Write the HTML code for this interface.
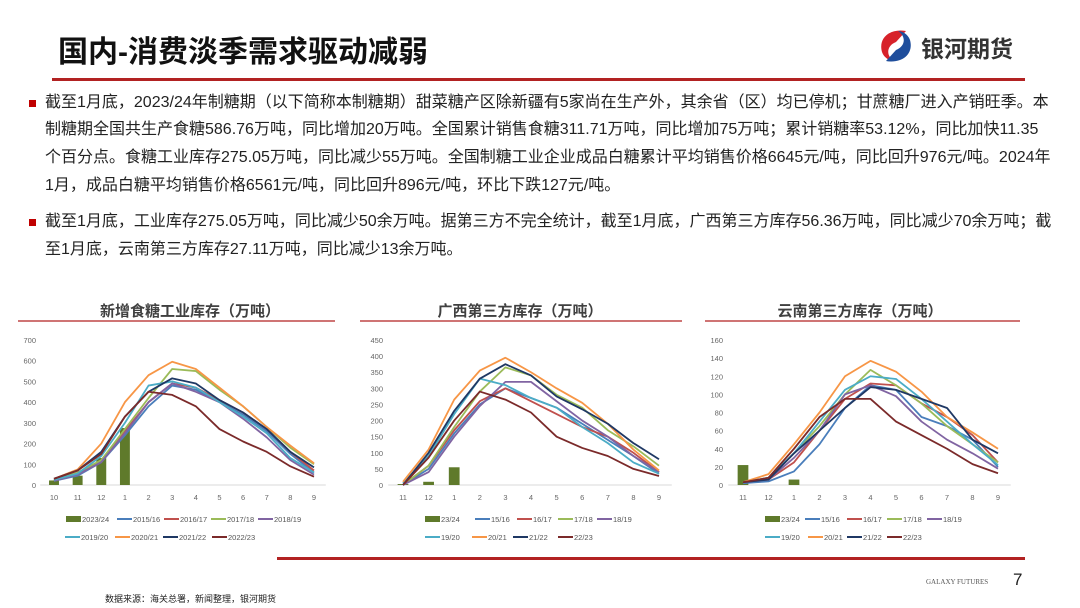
<!DOCTYPE html>
<html><head><meta charset="utf-8">
<style>
body{margin:0;width:1080px;height:608px;background:#fff;overflow:hidden;position:relative;font-family:"Liberation Sans","Noto Sans CJK SC",sans-serif;}
.t{position:absolute;white-space:nowrap;}
.line{position:absolute;left:45px;font-size:16px;color:#222;white-space:nowrap;line-height:20px;}
.bul{position:absolute;left:29px;width:7px;height:7px;background:#c00000;}
</style></head><body>
<div class="t" style="left:58px;top:27px;font-size:30px;font-weight:bold;color:#111;font-family:'Liberation Sans','Noto Sans CJK SC',sans-serif;">国内-消费淡季需求驱动减弱</div>
<div style="position:absolute;left:52px;top:78px;width:973px;height:3px;background:#b22222;"></div>
<svg style="position:absolute;left:876px;top:28px" width="40" height="36" viewBox="0 0 40 36"><path d="M30 3 C14 0 2 10 6 24 C8 30 14 33 18 33 C10 28 10 18 20 14 Z" fill="#d7222a"/><path d="M10 33 C26 36 38 26 34 12 C32 6 26 3 22 3 C30 8 30 18 20 22 Z" fill="#1f4e9c"/></svg>
<div class="t" style="left:921px;top:30px;font-size:23px;font-weight:bold;color:#333;">银河期货</div>

<div class="bul" style="top:100px"></div>
<div class="line" style="top:93px">截至1月底，2023/24年制糖期（以下简称本制糖期）甜菜糖产区除新疆有5家尚在生产外，其余省（区）均已停机；甘蔗糖厂进入产销旺季。本</div>
<div class="line" style="top:120px">制糖期全国共生产食糖586.76万吨，同比增加20万吨。全国累计销售食糖311.71万吨，同比增加75万吨；累计销糖率53.12%，同比加快11.35</div>
<div class="line" style="top:148px">个百分点。食糖工业库存275.05万吨，同比减少55万吨。全国制糖工业企业成品白糖累计平均销售价格6645元/吨，同比回升976元/吨。2024年</div>
<div class="line" style="top:176px">1月，成品白糖平均销售价格6561元/吨，同比回升896元/吨，环比下跌127元/吨。</div>
<div class="bul" style="top:219px"></div>
<div class="line" style="top:212px">截至1月底，工业库存275.05万吨，同比减少50余万吨。据第三方不完全统计，截至1月底，广西第三方库存56.36万吨，同比减少70余万吨；截</div>
<div class="line" style="top:240px">至1月底，云南第三方库存27.11万吨，同比减少13余万吨。</div>

<svg id="charts" style="position:absolute;left:0;top:0" width="1080" height="608"></svg>

<div style="position:absolute;left:277px;top:557px;width:748px;height:3px;background:#b22222;"></div>
<div class="t" style="left:926px;top:578px;font-size:7px;color:#555;font-family:'Liberation Serif',serif;">GALAXY FUTURES</div>
<div class="t" style="left:1013px;top:570px;font-size:17px;color:#222;">7</div>
<div class="t" style="left:105px;top:592px;font-size:9px;color:#222;">数据来源：海关总署，新闻整理，银河期货</div>

<script>
const colors=["#4a7ebb","#c0504d","#9bbb59","#8064a2","#4bacc6","#f79646","#1f3864","#7b2a2a"];
const barColor="#5f7a2b";
// chart 1
const c1Cats=["10","11","12","1","2","3","4","5","6","7","8","9"];
const c1Ticks=[0,100,200,300,400,500,600,700];
const c1Bar=[22,45,130,275];
const c1Names=["2023/24","2015/16","2016/17","2017/18","2018/19","2019/20","2020/21","2021/22","2022/23"];
const c1S1=[20,45,110,240,380,480,460,400,340,260,150,60];
const c1S2=[25,55,120,260,400,490,470,410,350,270,160,70];
const c1S3=[25,60,120,270,420,560,550,460,380,280,180,100];
const c1S4=[20,50,110,250,400,490,450,400,320,230,120,50];
const c1S5=[25,55,140,300,480,500,470,400,330,250,130,60];
const c1S6=[30,75,200,400,530,595,560,470,380,280,190,105];
const c1S7=[30,70,160,330,450,515,490,410,350,270,160,85];
const c1S8=[30,70,150,330,450,435,380,270,210,160,90,40];
// chart 2
const c2Cats=["11","12","1","2","3","4","5","6","7","8","9"];
const c2Ticks=[0,50,100,150,200,250,300,350,400,450];
const c2Bar=[3,10,55];
const c2Names=["23/24","15/16","16/17","17/18","18/19","19/20","20/21","21/22","22/23"];
const c2S1=[0,50,160,250,300,270,240,190,140,90,35];
const c2S2=[0,60,170,260,300,260,220,180,150,100,40];
const c2S3=[0,60,180,290,365,340,280,240,170,120,60];
const c2S4=[0,40,150,245,320,320,260,200,150,90,40];
const c2S5=[5,90,220,330,310,270,240,180,130,70,35];
const c2S6=[10,110,265,355,395,350,300,255,190,110,45];
const c2S7=[0,100,230,330,375,340,275,235,190,130,80];
const c2S8=[0,85,200,290,265,225,150,115,90,50,28];
// chart 3
const c3Cats=["11","12","1","2","3","4","5","6","7","8","9"];
const c3Ticks=[0,20,40,60,80,100,120,140,160];
const c3Bar=[22,0,6];
const c3Names=["23/24","15/16","16/17","17/18","18/19","19/20","20/21","21/22","22/23"];
const c3S1=[2,4,15,45,85,110,105,75,65,50,20];
const c3S2=[3,6,25,60,95,112,110,90,75,55,25];
const c3S3=[3,8,35,65,100,127,110,90,65,45,25];
const c3S4=[3,6,30,60,100,110,98,70,50,35,18];
const c3S5=[3,8,35,70,105,120,117,95,70,45,22];
const c3S6=[3,12,45,80,120,137,125,103,75,58,40];
const c3S7=[3,6,35,60,85,108,105,95,85,50,35];
const c3S8=[3,8,40,75,95,95,70,55,40,23,13];

const NS="http://www.w3.org/2000/svg";
const svg=document.getElementById('charts');
function mk(tag,attrs,parent){const e=document.createElementNS(NS,tag);for(const k in attrs)e.setAttribute(k,attrs[k]);(parent||svg).appendChild(e);return e;}

function chart(cfg){
  const g=mk('g',{});
  
  
  const t=mk('text',{x:cfg.titleX,y:316,'text-anchor':'middle','font-size':15,'font-weight':'bold',fill:'#404040','font-family':'Liberation Sans, Noto Sans CJK SC, sans-serif'},g);
  t.textContent=cfg.title;
  
  
  const r=mk('line',{x1:cfg.ruleX1,x2:cfg.ruleX2,y1:321,y2:321,stroke:'#b22222','stroke-width':1.3},g);
  
  
  const y0=485,y1=340,max=cfg.ticks[cfg.ticks.length-1];
  const ys=v=>y0-(v/max)*(y0-y1);
  const n=cfg.cats.length,step=(cfg.xl-cfg.xf)/(n-1);
  const xs=i=>cfg.xf+i*step;
  cfg.ticks.forEach(v=>{const tx=mk('text',{x:cfg.yLabX,y:ys(v)+3,'text-anchor':'end','font-size':7.5,fill:'#666'},g);tx.textContent=v;
    });
  const ax=mk('line',{x1:cfg.xf-step/2-2,x2:cfg.xl+step/2,y1:y0,y2:y0,stroke:'#d9d9d9','stroke-width':1},g);
  
  cfg.cats.forEach((c,i)=>{const tx=mk('text',{x:xs(i),y:500,'text-anchor':'middle','font-size':7.5,fill:'#666'},g);tx.textContent=c;
    });
  const bw=step*0.42;
  cfg.bar.forEach((v,i)=>{if(v<=0)return;const b=mk('rect',{x:xs(i)-bw/2,y:ys(v),width:bw,height:y0-ys(v),fill:barColor},g);
    });
  cfg.series.forEach((s,k)=>{const p=mk('polyline',{points:s.map((v,i)=>xs(i)+','+ys(v)).join(' '),fill:'none',stroke:colors[k],'stroke-width':1.8,'stroke-linejoin':'round'},g);
    });
  cfg.names.forEach((nm,k)=>{const row=k<5?0:1;const x=row?cfg.leg2[k-5]:cfg.leg1[k];const y=row?537:519;
    const lg=mk('g',{},g);
    if(k===0)mk('rect',{x:x,y:y-3,width:15,height:6,fill:barColor},lg);
    else mk('line',{x1:x,x2:x+15,y1:y,y2:y,stroke:colors[k-1],'stroke-width':2},lg);
    const tx=mk('text',{x:x+16,y:y+3,'font-size':7.5,fill:'#555'},lg);tx.textContent=nm;});
}
chart({name:'chart-industrial-stock',title:'新增食糖工业库存（万吨）',titleX:190,ruleX1:18,ruleX2:335,cats:c1Cats,ticks:c1Ticks,bar:c1Bar,names:c1Names,
  series:[c1S1,c1S2,c1S3,c1S4,c1S5,c1S6,c1S7,c1S8],xf:54,xl:314,yLabX:36,leg1:[66,117,164,211,258],leg2:[65,115,163,212]});
chart({name:'chart-guangxi-stock',title:'广西第三方库存（万吨）',titleX:520,ruleX1:360,ruleX2:682,cats:c2Cats,ticks:c2Ticks,bar:c2Bar,names:c2Names,
  series:[c2S1,c2S2,c2S3,c2S4,c2S5,c2S6,c2S7,c2S8],xf:403,xl:659,yLabX:383,leg1:[425,475,517,558,597],leg2:[425,472,513,558]});
chart({name:'chart-yunnan-stock',title:'云南第三方库存（万吨）',titleX:860,ruleX1:705,ruleX2:1020,cats:c3Cats,ticks:c3Ticks,bar:c3Bar,names:c3Names,
  series:[c3S1,c3S2,c3S3,c3S4,c3S5,c3S6,c3S7,c3S8],xf:743,xl:998,yLabX:723,leg1:[765,805,847,887,927],leg2:[765,808,847,887]});
</script>
</body></html>
